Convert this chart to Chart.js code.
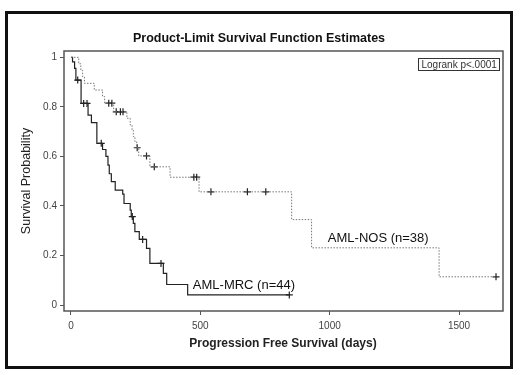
<!DOCTYPE html>
<html>
<head>
<meta charset="utf-8">
<script src="https://cdn.jsdelivr.net/npm/chart.js@4"></script>
<style>
  html, body { margin: 0; padding: 0; background: #fff; }
  canvas { display: block; }
</style>
</head>
<body>
<canvas id="km" width="520" height="375"></canvas>
<script>
// Kaplan-Meier curves (days, survival after the drop)
const mrcDays = [0, 6, 14, 19, 39, 66, 79, 100, 122, 135, 143, 148, 156, 171, 200, 205, 229, 233, 241, 247, 264, 292, 305, 357, 370, 451, 844];
const mrcSurv = [1, 0.982, 0.955, 0.908, 0.814, 0.767, 0.736, 0.653, 0.628, 0.6, 0.565, 0.53, 0.498, 0.464, 0.448, 0.41, 0.383, 0.357, 0.33, 0.296, 0.265, 0.229, 0.168, 0.128, 0.083, 0.041, 0.041];
const mrcCensorDays = [26, 49, 62, 117, 237, 277, 348, 844];
const mrcCensorSurv = [0.908, 0.814, 0.814, 0.653, 0.357, 0.265, 0.168, 0.041];

const nosDays = [0, 30, 38, 45, 52, 90, 122, 130, 165, 216, 229, 236, 241, 247, 254, 262, 305, 383, 495, 853, 930, 1423, 1643];
const nosSurv = [1, 0.974, 0.947, 0.921, 0.895, 0.868, 0.842, 0.815, 0.78, 0.754, 0.727, 0.706, 0.68, 0.66, 0.635, 0.602, 0.558, 0.516, 0.457, 0.345, 0.231, 0.114, 0.114];
const nosCensorDays = [146, 158, 175, 191, 201, 256, 292, 322, 475, 486, 541, 682, 753, 1643];
const nosCensorSurv = [0.815, 0.815, 0.78, 0.78, 0.78, 0.635, 0.602, 0.558, 0.516, 0.516, 0.457, 0.457, 0.457, 0.114];

const xTicks = [0, 500, 1000, 1500];
const yTicks = [0, 0.2, 0.4, 0.6, 0.8, 1];

const chartTitle = 'Product-Limit Survival Function Estimates';
const xTitle = 'Progression Free Survival (days)';
const yTitle = 'Survival Probability';
const logrankText = 'Logrank p<.0001';
// group labels anchored in data space: [text, day, survival]
const groupLabels = [
    ['AML-NOS (n=38)', 993, 0.27],
    ['AML-MRC (n=44)', 471, 0.08]
];

const FONT = 'Arial, "Liberation Sans", sans-serif';

function toXY(xs, ys) {
    return xs.map((x, i) => ({ x: x, y: ys[i] }));
}

// marcos, títulos y etiquetas
const decorPlugin = {
    id: 'decor',
    afterDraw(chart) {
        const ctx = chart.ctx;
        const area = chart.chartArea;
        const sx = chart.scales.x;
        const sy = chart.scales.y;
        ctx.save();

        // outer frame
        ctx.strokeStyle = '#111';
        ctx.lineWidth = 3;
        ctx.strokeRect(6.5, 12.5, 505, 355);

        // plot box
        ctx.strokeStyle = '#555';
        ctx.lineWidth = 1.5;
        ctx.strokeRect(area.left, area.top, area.right - area.left, area.bottom - area.top);

        // title
        ctx.fillStyle = '#111';
        ctx.font = 'bold 12.5px ' + FONT;
        ctx.textAlign = 'center';
        ctx.textBaseline = 'middle';
        ctx.fillText(chartTitle, 259, 39);

        // x axis title
        ctx.fillStyle = '#222';
        ctx.font = 'bold 12px ' + FONT;
        ctx.fillText(xTitle, 283, 344);

        // y axis title
        ctx.save();
        ctx.translate(27, 181);
        ctx.rotate(-Math.PI / 2);
        ctx.font = '12.5px ' + FONT;
        ctx.fillText(yTitle, 0, 0);
        ctx.restore();

        // logrank box
        ctx.font = '10px ' + FONT;
        const tw = ctx.measureText(logrankText).width;
        const bx = area.right - 4 - (tw + 6);
        ctx.strokeStyle = '#333';
        ctx.lineWidth = 1;
        ctx.strokeRect(Math.round(bx) + 0.5, area.top + 7.5, Math.round(tw + 6), 12);
        ctx.fillStyle = '#333';
        ctx.textAlign = 'left';
        ctx.fillText(logrankText, Math.round(bx) + 3.5, area.top + 14);

        // group labels
        ctx.fillStyle = '#111';
        ctx.font = '13px ' + FONT;
        ctx.textAlign = 'left';
        groupLabels.forEach(([txt, d, s]) => {
            ctx.fillText(txt, sx.getPixelForValue(d), sy.getPixelForValue(s));
        });

        ctx.restore();
    }
};

new Chart(document.getElementById('km'), {
    type: 'scatter',
    data: {
        datasets: [
            {
                label: 'AML-NOS',
                data: toXY(nosDays, nosSurv),
                showLine: true,
                stepped: 'before',
                borderColor: '#777',
                borderWidth: 1,
                borderDash: [1.5, 1.5],
                pointRadius: 0
            },
            {
                label: 'AML-MRC',
                data: toXY(mrcDays, mrcSurv),
                showLine: true,
                stepped: 'before',
                borderColor: '#222',
                borderWidth: 1.2,
                pointRadius: 0
            },
            {
                label: 'NOS censored',
                data: toXY(nosCensorDays, nosCensorSurv),
                showLine: false,
                pointStyle: 'cross',
                pointRadius: 3.5,
                borderColor: '#222',
                borderWidth: 1.2
            },
            {
                label: 'MRC censored',
                data: toXY(mrcCensorDays, mrcCensorSurv),
                showLine: false,
                pointStyle: 'cross',
                pointRadius: 3.5,
                borderColor: '#222',
                borderWidth: 1.2
            }
        ]
    },
    options: {
        responsive: false,
        animation: false,
        devicePixelRatio: 1,
        layout: { padding: { top: 51, right: 17, left: 0, bottom: 0 } },
        scales: {
            x: {
                type: 'linear',
                min: -27,
                max: 1670,
                afterBuildTicks: s => { s.ticks = xTicks.map(v => ({ value: v })); },
                afterFit: s => { s.height = 64; },
                grid: { drawOnChartArea: false, drawTicks: true, tickLength: 4, color: '#555', lineWidth: 1 },
                border: { display: false },
                ticks: {
                    font: { size: 10, family: FONT },
                    color: '#444',
                    padding: 5,
                    maxRotation: 0,
                    callback: v => String(v)
                }
            },
            y: {
                type: 'linear',
                min: -0.024,
                max: 1.0255,
                afterBuildTicks: s => { s.ticks = yTicks.map(v => ({ value: v })); },
                afterFit: s => { s.width = 64; },
                grid: { drawOnChartArea: false, drawTicks: true, tickLength: 4, color: '#555', lineWidth: 1 },
                border: { display: false },
                ticks: {
                    font: { size: 10, family: FONT },
                    color: '#444',
                    padding: 3,
                    callback: v => (v === 0 || v === 1) ? String(v) : v.toFixed(1)
                }
            }
        },
        plugins: {
            legend: { display: false },
            tooltip: { enabled: false },
            title: { display: false }
        }
    },
    plugins: [decorPlugin]
});
</script>
</body>
</html>
